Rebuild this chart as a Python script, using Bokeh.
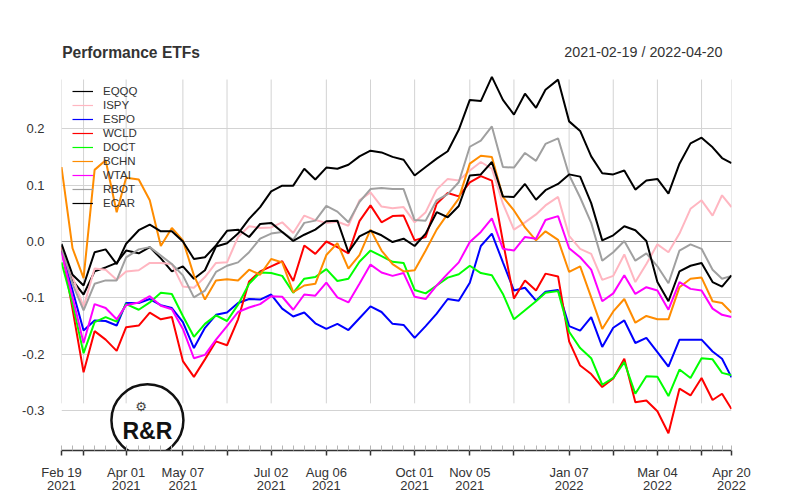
import pandas as pd
from bokeh.plotting import figure
from bokeh.models import (Range1d, FixedTicker, NumeralTickFormatter, Legend,
                          LegendItem, Label)
from bokeh.core.properties import value
from bokeh.embed import file_html
from bokeh.resources import INLINE

# ---------------- data ----------------
fridays = pd.date_range("2021-02-19", "2022-04-15", freq="W-FRI")
holiday_fix = {"2021-04-02": "2021-04-01", "2021-12-24": "2021-12-23",
               "2022-04-15": "2022-04-14"}
dates = [pd.Timestamp(holiday_fix.get(d.strftime("%Y-%m-%d"), d.strftime("%Y-%m-%d")))
         for d in fridays] + [pd.Timestamp("2022-04-20")]

EQQQ = [-0.007, -0.069, -0.094, -0.053, -0.046, -0.038, -0.016, -0.021, -0.010, -0.030,
        -0.053, -0.044, -0.066, -0.051, -0.009, -0.003, 0.014, 0.040, 0.061, 0.089,
        0.099, 0.099, 0.129, 0.110, 0.131, 0.129, 0.136, 0.151, 0.161, 0.158,
        0.150, 0.145, 0.117, 0.132, 0.147, 0.160, 0.198, 0.251, 0.249, 0.292,
        0.251, 0.225, 0.262, 0.237, 0.269, 0.287, 0.213, 0.196, 0.151, 0.121,
        0.119, 0.126, 0.092, 0.108, 0.111, 0.085, 0.138, 0.174, 0.184, 0.167,
        0.148, 0.139]
ISPY = [-0.010, -0.063, -0.116, -0.048, -0.050, -0.068, -0.053, -0.051, -0.038, -0.038,
        -0.040, -0.080, -0.082, -0.063, -0.038, -0.037, 0.008, 0.027, 0.024, 0.025,
        0.034, 0.015, 0.046, 0.038, 0.033, 0.035, 0.028, 0.073, 0.087, 0.062,
        0.059, 0.061, 0.034, 0.052, 0.092, 0.111, 0.108, 0.126, 0.141, 0.129,
        0.067, 0.021, 0.034, 0.048, 0.064, 0.079, 0.010, -0.013, -0.022, -0.068,
        -0.061, -0.023, -0.072, -0.040, -0.005, -0.019, 0.014, 0.058, 0.073, 0.046,
        0.082, 0.061]
ESPO = [-0.016, -0.087, -0.158, -0.140, -0.141, -0.149, -0.109, -0.109, -0.102, -0.113,
        -0.118, -0.143, -0.189, -0.153, -0.130, -0.126, -0.109, -0.102, -0.103, -0.094,
        -0.119, -0.133, -0.126, -0.145, -0.155, -0.146, -0.157, -0.136, -0.115, -0.125,
        -0.146, -0.148, -0.171, -0.150, -0.128, -0.102, -0.105, -0.073, -0.008, 0.014,
        -0.037, -0.087, -0.082, -0.105, -0.089, -0.086, -0.150, -0.158, -0.134, -0.187,
        -0.153, -0.140, -0.180, -0.171, -0.196, -0.222, -0.174, -0.174, -0.174, -0.195,
        -0.208, -0.241]
WCLD = [-0.010, -0.120, -0.232, -0.159, -0.174, -0.194, -0.152, -0.149, -0.126, -0.138,
        -0.134, -0.212, -0.240, -0.209, -0.177, -0.184, -0.138, -0.071, -0.053, -0.044,
        -0.035, -0.070, -0.007, -0.022, 0.000, -0.010, -0.021, 0.036, 0.064, 0.034,
        0.045, 0.046, 0.002, 0.008, 0.067, 0.086, 0.080, 0.105, 0.116, 0.108,
        0.000, -0.101, -0.069, -0.087, -0.057, -0.062, -0.177, -0.220, -0.235, -0.258,
        -0.243, -0.208, -0.285, -0.282, -0.301, -0.340, -0.261, -0.273, -0.242, -0.281,
        -0.270, -0.297]
DOCT = [-0.037, -0.110, -0.198, -0.143, -0.134, -0.142, -0.111, -0.121, -0.108, -0.091,
        -0.093, -0.132, -0.169, -0.146, -0.131, -0.141, -0.112, -0.075, -0.055, -0.056,
        -0.061, -0.091, -0.066, -0.063, -0.049, -0.070, -0.066, -0.036, -0.016, -0.026,
        -0.036, -0.038, -0.086, -0.092, -0.078, -0.064, -0.058, -0.043, -0.056, -0.060,
        -0.093, -0.138, -0.122, -0.106, -0.091, -0.088, -0.160, -0.189, -0.207, -0.254,
        -0.242, -0.214, -0.270, -0.239, -0.240, -0.274, -0.227, -0.242, -0.207, -0.209,
        -0.233, -0.237]
BCHN = [0.132, -0.012, -0.065, 0.127, 0.144, 0.052, 0.113, 0.110, 0.073, -0.008,
        0.024, 0.002, -0.060, -0.103, -0.069, -0.067, -0.069, -0.050, -0.059, -0.031,
        -0.037, -0.090, -0.078, -0.075, -0.024, -0.003, -0.048, -0.024, 0.021, -0.016,
        -0.040, -0.053, -0.051, -0.016, 0.021, 0.049, 0.076, 0.138, 0.152, 0.150,
        0.079, 0.055, 0.025, 0.002, 0.018, 0.003, -0.054, -0.044, -0.099, -0.155,
        -0.124, -0.102, -0.144, -0.132, -0.138, -0.138, -0.081, -0.066, -0.064, -0.106,
        -0.109, -0.126]
WTAI = [-0.019, -0.099, -0.180, -0.111, -0.118, -0.138, -0.113, -0.108, -0.097, -0.114,
        -0.120, -0.155, -0.207, -0.201, -0.174, -0.150, -0.125, -0.117, -0.111, -0.097,
        -0.098, -0.121, -0.094, -0.096, -0.073, -0.099, -0.108, -0.075, -0.041, -0.055,
        -0.061, -0.056, -0.098, -0.102, -0.078, -0.057, -0.037, -0.001, 0.017, 0.041,
        -0.013, -0.016, 0.008, 0.005, 0.038, 0.045, -0.012, -0.028, -0.050, -0.106,
        -0.092, -0.060, -0.093, -0.081, -0.087, -0.121, -0.072, -0.084, -0.087, -0.119,
        -0.130, -0.134]
RBOT = [-0.010, -0.075, -0.122, -0.075, -0.069, -0.069, -0.028, -0.014, -0.010, -0.025,
        -0.040, -0.060, -0.099, -0.087, -0.054, -0.043, -0.037, -0.019, 0.005, 0.014,
        0.017, 0.003, 0.033, 0.037, 0.063, 0.053, 0.034, 0.070, 0.093, 0.095,
        0.093, 0.093, 0.038, 0.037, 0.073, 0.084, 0.105, 0.168, 0.179, 0.204,
        0.132, 0.131, 0.157, 0.143, 0.173, 0.183, 0.118, 0.078, 0.033, -0.034,
        -0.019, 0.001, -0.034, -0.021, -0.044, -0.074, -0.016, -0.005, -0.013, -0.050,
        -0.066, -0.061]
ECAR = [-0.004, -0.059, -0.078, -0.019, -0.014, -0.040, -0.004, 0.020, 0.030, 0.018,
        0.018, 0.000, -0.031, -0.028, -0.007, 0.019, 0.021, 0.008, 0.031, 0.033,
        0.017, 0.001, 0.012, 0.021, 0.036, 0.037, -0.019, 0.009, 0.019, 0.011,
        -0.001, 0.005, -0.008, 0.014, 0.052, 0.043, 0.063, 0.117, 0.119, 0.141,
        0.080, 0.079, 0.102, 0.074, 0.091, 0.102, 0.119, 0.115, 0.068, 0.002,
        0.011, 0.027, 0.020, 0.001, -0.072, -0.106, -0.053, -0.043, -0.038, -0.072,
        -0.080, -0.060]

series_names = ["EQQQ", "ISPY", "ESPO", "WCLD", "DOCT", "BCHN", "WTAI", "RBOT", "ECAR"]
series_values = [EQQQ, ISPY, ESPO, WCLD, DOCT, BCHN, WTAI, RBOT, ECAR]
series_colors = ["#000000", "#FFB6C1", "#0000FF", "#FF0000", "#00FF00",
                 "#FF8C00", "#FF00FF", "#A0A0A0", "#000000"]

tick_dates = ["2021-02-19", "2021-03-05", "2021-04-01", "2021-05-07", "2021-06-04",
              "2021-07-02", "2021-08-06", "2021-09-03", "2021-10-01", "2021-11-05",
              "2021-12-03", "2022-01-07", "2022-02-04", "2022-03-04", "2022-04-01",
              "2022-04-20"]
tick_labels = ["Feb 19\n2021", "", "Apr 01\n2021", "May 07\n2021", "",
               "Jul 02\n2021", "Aug 06\n2021", "", "Oct 01\n2021", "Nov 05\n2021",
               "", "Jan 07\n2022", "", "Mar 04\n2022", "", "Apr 20\n2022"]
y_ticks = [-0.3, -0.2, -0.1, 0.0, 0.1, 0.2]

title_text = "Performance ETFs"
range_text = "2021-02-19 / 2022-04-20"

# ---------------- layout ----------------
FONT = "Liberation Sans"
TXT = "#333333"
t0 = dates[0]
days = [(d - t0).days for d in dates]
tick_days = [(pd.Timestamp(t) - t0).days for t in tick_dates]

Y_LO, Y_HI = -0.3706, 0.383      # frame extends up to hold the header
VGRID_LO, VGRID_HI = -0.287, 0.2872
TITLE_Y = 0.3356

p = figure(frame_width=670, frame_height=425,
           min_border_left=61, min_border_right=54,
           min_border_top=25, min_border_bottom=46,
           x_range=Range1d(days[0], days[-1]), y_range=Range1d(Y_LO, Y_HI),
           output_backend="svg", toolbar_location=None,
           outline_line_color=None, background_fill_color="white",
           border_fill_color="white")

# grids
p.xgrid.grid_line_color = None
p.ygrid.ticker = FixedTicker(ticks=y_ticks)
p.ygrid.grid_line_color = "#D3D3D3"
p.ygrid.grid_line_width = 1

p.segment(x0=tick_days, x1=tick_days, y0=[VGRID_LO] * len(tick_days),
          y1=[VGRID_HI] * len(tick_days), line_color="#D3D3D3", line_width=1)
p.segment(x0=[days[0]], x1=[days[-1]], y0=[0], y1=[0],
          line_color="#8C8C8C", line_width=1)

# axes
xa = p.xaxis[0]
xa.ticker = FixedTicker(ticks=tick_days, minor_ticks=days)
xa.major_label_overrides = dict(zip(tick_days, tick_labels))
xa.axis_line_color = "#333333"
xa.axis_line_width = 1.5
xa.major_tick_line_color = "#333333"
xa.major_tick_line_width = 1.5
xa.major_tick_in = 0
xa.major_tick_out = 5
xa.minor_tick_line_color = "#B5B5B5"
xa.minor_tick_in = 5
xa.minor_tick_out = 0
xa.major_label_standoff = 9
xa.major_label_text_font = FONT
xa.major_label_text_font_size = "13px"
xa.major_label_text_color = TXT
xa.major_label_text_line_height = 0.9

ya = p.yaxis[0]
ya.ticker = FixedTicker(ticks=y_ticks)
ya.formatter = NumeralTickFormatter(format="0.0")
ya.axis_line_color = None
ya.major_tick_line_color = None
ya.minor_tick_line_color = None
ya.major_tick_in = 0
ya.major_tick_out = 0
ya.major_label_standoff = 17
ya.major_label_text_font = FONT
ya.major_label_text_font_size = "13px"
ya.major_label_text_color = TXT

# series
nan = float("nan")
items = []
for name, vals, col in zip(series_names, series_values, series_colors):
    p.line(days, vals, line_color=col, line_width=2)
    proxy = p.line([days[0]], [nan], line_color=col, line_width=1.2)
    items.append(LegendItem(label=name, renderers=[proxy]))

legend = Legend(items=items, location=(11, 240), orientation="vertical",
                padding=0, margin=0, spacing=0, glyph_width=21, glyph_height=14,
                label_height=14, label_standoff=10,
                label_text_font=FONT, label_text_font_size="11.5px",
                label_text_color=TXT, background_fill_alpha=0,
                border_line_alpha=0)
p.add_layout(legend, "center")

# header texts (inside the frame's top strip)
p.add_layout(Label(x=days[0] + 0.45, y=TITLE_Y, text=title_text, text_font=FONT,
                   text_font_style="bold", text_font_size="15.6px", text_color=TXT,
                   text_baseline="alphabetic", text_align="left"))
p.add_layout(Label(x=days[-1] - 5.7, y=TITLE_Y, text=range_text, text_font=FONT,
                   text_font_size="14.3px", text_color=TXT,
                   text_baseline="alphabetic", text_align="right"))

# logo (decoration)
LOGO_X, LOGO_Y = 54.5, -0.317
p.circle(x=[LOGO_X], y=[LOGO_Y], radius=36, radius_units="screen",
         fill_color=None, line_color="#111111", line_width=2.5)
p.text(x=[LOGO_X], y=[LOGO_Y - 0.019], text=["R&R"], text_font=value(FONT),
       text_font_style="bold", text_font_size="23px", text_color="#111111",
       text_align="center", text_baseline="middle")
p.text(x=[LOGO_X - 4], y=[LOGO_Y + 0.025], text=["\u2699"],
       text_font=value("DejaVu Sans"), text_font_size="13px", text_color="#444444",
       text_align="center", text_baseline="middle")

open("out.html", "w").write(file_html(p, INLINE))
